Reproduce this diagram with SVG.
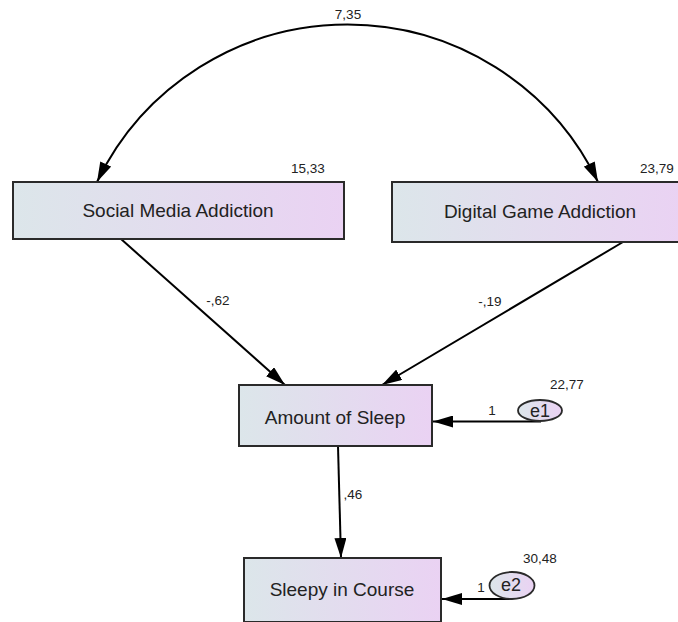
<svg xmlns="http://www.w3.org/2000/svg" width="678" height="622" viewBox="0 0 678 622">
<defs>
<linearGradient id="boxfill" x1="0" y1="0" x2="1" y2="0">
<stop offset="0" stop-color="#dce6ea"/>
<stop offset="1" stop-color="#ead2f3"/>
</linearGradient>
<marker id="arr" markerUnits="userSpaceOnUse" markerWidth="20" markerHeight="12" refX="20" refY="6" orient="auto-start-reverse" viewBox="0 0 20 12">
<path d="M0,0 L20,6 L0,12 z" fill="#000"/>
</marker>
<style>
.box{fill:url(#boxfill);stroke:#2a2a2a;stroke-width:2}
.err{fill:url(#boxfill);stroke:#2a2a2a;stroke-width:1.8}
.lbl{font-family:"Liberation Sans",Arial,sans-serif;font-size:19px;fill:#222;text-anchor:middle}
.elbl{font-family:"Liberation Sans",Arial,sans-serif;font-size:18px;fill:#222;text-anchor:middle}
.num{font-family:"Liberation Sans",Arial,sans-serif;font-size:13.5px;fill:#222;text-anchor:middle}
.con{fill:none;stroke:#000;stroke-width:2;marker-end:url(#arr)}
</style>
</defs>
<g id="connectors">
<path class="con" d="M97,182 A278,278 0 0 1 598,182" style="marker-start:url(#arr)"/>
<line class="con" x1="121" y1="239" x2="285" y2="385"/>
<line class="con" x1="623" y1="242" x2="382" y2="385"/>
<line class="con" x1="338" y1="446" x2="341" y2="558"/>
<line class="con" x1="541" y1="421.5" x2="433" y2="421.5"/>
<line class="con" x1="511" y1="599" x2="442" y2="599"/>
<text class="num" x="348" y="19">7,35</text>
<text class="num" x="218" y="305">-,62</text>
<text class="num" x="490" y="306">-,19</text>
<text class="num" x="353" y="499">,46</text>
<text class="num" x="492" y="415">1</text>
<text class="num" x="481" y="592">1</text>
</g>
<g id="social">
<rect class="box" x="13" y="182" width="331" height="57"/>
<text class="lbl" x="178" y="217">Social Media Addiction</text>
<text class="num" x="308" y="173">15,33</text>
</g>
<g id="digital">
<rect class="box" x="392" y="182" width="290" height="60"/>
<text class="lbl" x="540" y="218">Digital Game Addiction</text>
<text class="num" x="657" y="173">23,79</text>
</g>
<g id="sleep">
<rect class="box" x="239" y="385" width="193" height="61"/>
<text class="lbl" x="335" y="424">Amount of Sleep</text>
</g>
<g id="sleepy">
<rect class="box" x="244" y="558" width="197" height="64"/>
<text class="lbl" x="342" y="596">Sleepy in Course</text>
</g>
<g id="e1">
<ellipse class="err" cx="540" cy="410.5" rx="22" ry="10.5"/>
<text class="elbl" x="540" y="417">e1</text>
<text class="num" x="567" y="389">22,77</text>
</g>
<g id="e2">
<ellipse class="err" cx="512" cy="585.5" rx="22.5" ry="13.5"/>
<text class="elbl" x="511" y="591">e2</text>
<text class="num" x="540" y="563">30,48</text>
</g>
</svg>
